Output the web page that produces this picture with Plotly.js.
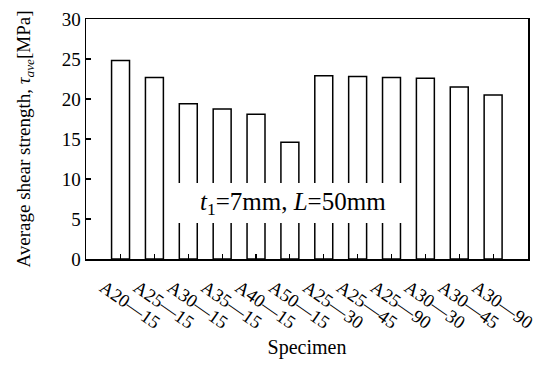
<!DOCTYPE html>
<html>
<head>
<meta charset="utf-8">
<script src="https://cdn.plot.ly/plotly-3.0.1.min.js"></script>
<style>
  html, body { margin: 0; padding: 0; background: #fff; }
  #chart { width: 547px; height: 368px; }
</style>
</head>
<body>
<div id="chart"></div>
<script>
// Specimen names and measured average shear strength (MPa)
const specimens = ['A20—15', 'A25—15', 'A30—15', 'A35—15', 'A40—15', 'A50—15',
                   'A25—30', 'A25—45', 'A25—90', 'A30—30', 'A30—45', 'A30—90'];
const shearStrength = [24.8, 22.7, 19.4, 18.75, 18.1, 14.6,
                       22.9, 22.8, 22.7, 22.6, 21.5, 20.5];
const yTicks = [0, 5, 10, 15, 20, 25, 30];
const conditionLabel = '<i>t</i><sub>1</sub>=7mm, <i>L</i>=50mm';

const serif = 'Liberation Serif, Times New Roman, serif';

const trace = {
  type: 'bar',
  x: specimens.map((_, i) => i),
  y: shearStrength,
  width: 0.53,
  marker: { color: '#ffffff', line: { color: '#000000', width: 1.5 } },
  hoverinfo: 'skip'
};

const layout = {
  width: 547,
  height: 368,
  margin: { l: 86, r: 19, t: 19, b: 109 },
  paper_bgcolor: '#ffffff',
  plot_bgcolor: '#ffffff',
  showlegend: false,
  font: { family: serif, color: '#000000', size: 19 },
  xaxis: {
    range: [-1.02, 12.03],
    tickmode: 'array',
    tickvals: specimens.map((_, i) => i),
    ticktext: specimens,
    tickangle: 35,
    ticks: 'inside',
    ticklen: 5,
    tickwidth: 1.2,
    tickcolor: '#000000',
    tickfont: { family: serif, size: 18.5 },
    ticklabelshift: -17,
    ticklabelstandoff: 9,
    showline: true,
    linecolor: '#000000',
    linewidth: 1.5,
    mirror: true,
    showgrid: false,
    zeroline: false,
    title: { text: 'Specimen', font: { family: serif, size: 20 }, standoff: 8 }
  },
  yaxis: {
    range: [0, 30],
    tickmode: 'array',
    tickvals: yTicks,
    ticks: 'inside',
    ticklen: 5,
    tickwidth: 1.2,
    tickcolor: '#000000',
    tickfont: { family: serif, size: 19 },
    showline: true,
    linecolor: '#000000',
    linewidth: 1.5,
    mirror: true,
    showgrid: false,
    zeroline: false,
    title: {
      text: 'Average shear strength, <i>τ</i><sub><i>ave</i></sub>[MPa]',
      font: { family: serif, size: 19 },
      standoff: 26
    }
  },
  shapes: [{
    type: 'rect',
    xref: 'paper', yref: 'y',
    x0: 0.19, x1: 0.733, y0: 4.5, y1: 9.5,
    fillcolor: '#ffffff',
    line: { width: 0 },
    layer: 'above'
  }],
  annotations: [{
    xref: 'paper', yref: 'y',
    x: 0.468, y: 7,
    text: conditionLabel,
    showarrow: false,
    font: { family: serif, size: 25, color: '#000000' },
    xanchor: 'center', yanchor: 'middle'
  }]
};

Plotly.newPlot('chart', [trace], layout, { staticPlot: true, displayModeBar: false });
</script>
</body>
</html>
